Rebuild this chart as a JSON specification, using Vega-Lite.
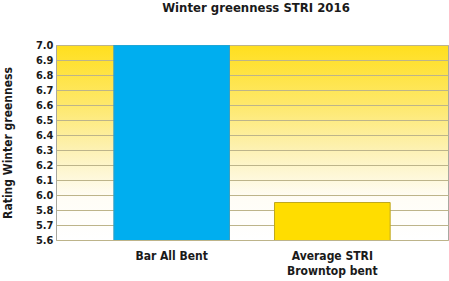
{
  "$schema": "https://vega.github.io/schema/vega-lite/v6.json",
  "width": 392,
  "height": 195,
  "autosize": "none",
  "padding": {"left": 56, "top": 45, "right": 1, "bottom": 41},
  "background": "#FFFFFF",
  "title": {
    "text": "Winter greenness STRI 2016",
    "font": "DejaVu Sans Condensed",
    "fontSize": 13,
    "fontWeight": "bold",
    "color": "#1a1a1a",
    "anchor": "middle",
    "dx": 4,
    "offset": 24
  },
  "config": {
    "font": "DejaVu Sans Condensed",
    "view": {
      "stroke": "#A8A8A0",
      "strokeWidth": 1,
      "fill": {
        "gradient": "linear",
        "x1": 0, "y1": 0, "x2": 0, "y2": 1,
        "stops": [
          {"offset": 0, "color": "#FFDF1E"},
          {"offset": 0.3, "color": "#FEE86A"},
          {"offset": 0.55, "color": "#FDF2B8"},
          {"offset": 0.78, "color": "#FFFDF6"},
          {"offset": 1, "color": "#FFFFFF"}
        ]
      }
    }
  },
  "data": {
    "values": [
      {"variety": "Bar All Bent", "rating": 7.0},
      {"variety": "Average STRI Browntop bent", "rating": 5.95}
    ]
  },
  "mark": {"type": "bar", "strokeWidth": 1, "clip": true},
  "encoding": {
    "x": {
      "field": "variety",
      "type": "nominal",
      "sort": null,
      "scale": {"paddingInner": 0.28, "paddingOuter": 0.36},
      "axis": {
        "title": null,
        "labelAngle": 0,
        "labelFont": "DejaVu Sans Condensed",
        "labelFontSize": 12,
        "labelFontWeight": "bold",
        "labelColor": "#1a1a1a",
        "labelPadding": 10,
        "labelLineHeight": 15,
        "ticks": false,
        "domain": false,
        "labelExpr": "datum.value == 'Average STRI Browntop bent' ? ['Average STRI', 'Browntop bent'] : datum.label"
      }
    },
    "y": {
      "field": "rating",
      "type": "quantitative",
      "scale": {"domain": [5.7, 7.0], "zero": false, "nice": false},
      "axis": {
        "title": "Rating Winter greenness",
        "titleFont": "DejaVu Sans Condensed",
        "titleFontSize": 12,
        "titleFontWeight": "bold",
        "titleColor": "#1a1a1a",
        "titlePadding": 21,
        "values": [5.7, 5.8, 5.9, 6.0, 6.1, 6.2, 6.3, 6.4, 6.5, 6.6, 6.7, 6.8, 6.9, 7.0],
        "labelExpr": "datum.value < 5.95 ? format(datum.value - 0.1, '.1f') : format(datum.value, '.1f')",
        "labelFont": "DejaVu Sans Condensed",
        "labelFontSize": 11,
        "labelFontWeight": "bold",
        "labelColor": "#1a1a1a",
        "labelPadding": 3,
        "ticks": false,
        "domain": false,
        "grid": true,
        "gridColor": "#BDB48A",
        "gridWidth": 1
      }
    },
    "color": {
      "field": "variety",
      "type": "nominal",
      "scale": {"domain": ["Bar All Bent", "Average STRI Browntop bent"], "range": ["#00AEEF", "#FFDD00"]},
      "legend": null
    },
    "stroke": {
      "field": "variety",
      "type": "nominal",
      "scale": {"domain": ["Bar All Bent", "Average STRI Browntop bent"], "range": ["#3A9FC0", "#BFA820"]},
      "legend": null
    }
  }
}
